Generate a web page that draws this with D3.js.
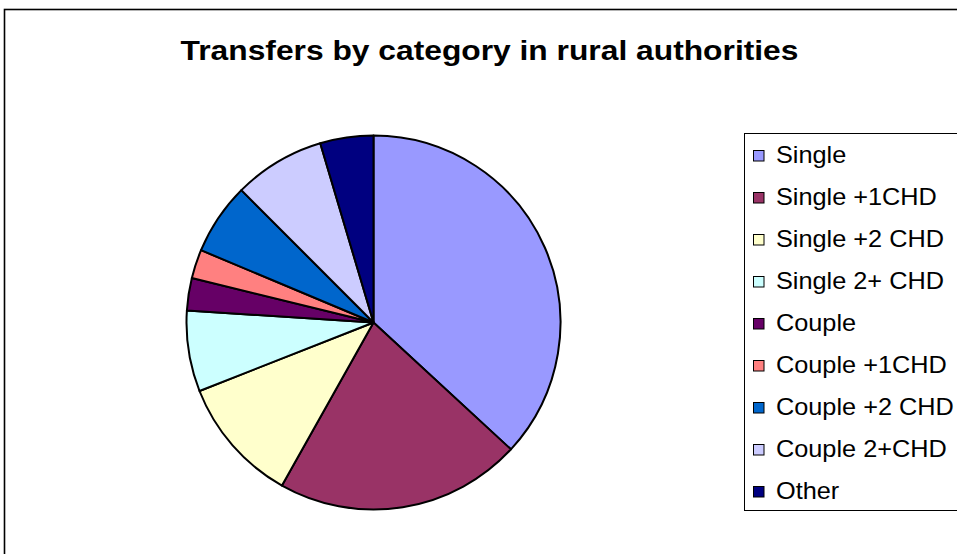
<!DOCTYPE html>
<html>
<head>
<meta charset="utf-8">
<script src="https://cdn.jsdelivr.net/npm/d3@7"></script>
<style>
  html, body { margin: 0; padding: 0; background: #fff; }
  svg { display: block; }
</style>
</head>
<body>
<svg id="chart" width="957" height="554"></svg>
<script>
// Household categories and their share of transfers (%)
const categories = ["Single", "Single +1CHD", "Single +2 CHD", "Single 2+ CHD", "Couple",
                    "Couple +1CHD", "Couple +2 CHD", "Couple 2+CHD", "Other"];
const values = [36.9, 21.3, 10.9, 7.0, 2.8, 2.5, 6.2, 7.9, 4.6];
const colors = ["#9999FF", "#993366", "#FFFFCC", "#CCFFFF", "#660066",
                "#FF8080", "#0066CC", "#CCCCFF", "#000080"];
const title = "Transfers by category in rural authorities";

const svg = d3.select("#chart");

// Chart area frame (right and bottom edges run off the page)
svg.append("rect")
  .attr("x", 4.5).attr("y", 9.5)
  .attr("width", 1000).attr("height", 600)
  .attr("fill", "#fff")
  .attr("stroke", "#000").attr("stroke-width", 1.6);

// Title
svg.append("text")
  .attr("transform", "translate(489.5,59.5) scale(1.135,1)")
  .attr("text-anchor", "middle")
  .attr("font-family", "Liberation Sans, Arial, sans-serif")
  .attr("font-weight", "bold")
  .attr("font-size", 28)
  .attr("fill", "#000")
  .text(title);

// Pie
const data = categories.map((c, i) => ({ name: c, value: values[i], color: colors[i] }));
const pie = d3.pie().value(d => d.value).sort(null);
const arc = d3.arc().innerRadius(0).outerRadius(187);

const g = svg.append("g").attr("transform", "translate(373.5,322.5)");
g.selectAll("path")
  .data(pie(data))
  .join("path")
  .attr("d", arc)
  .attr("fill", d => d.data.color)
  .attr("stroke", "#000")
  .attr("stroke-width", 2)
  .attr("stroke-linejoin", "round");

// Legend
const legend = svg.append("g");
legend.append("rect")
  .attr("x", 744.5).attr("y", 133.5)
  .attr("width", 300).attr("height", 377)
  .attr("fill", "#fff")
  .attr("stroke", "#000").attr("stroke-width", 1);

const rowY = d3.scalePoint().domain(categories).range([163, 499]);

const items = legend.selectAll("g.item")
  .data(data)
  .join("g")
  .attr("class", "item")
  .attr("transform", d => `translate(0,${rowY(d.name)})`);

items.append("rect")
  .attr("x", 753.5).attr("y", -12.5)
  .attr("width", 10.5).attr("height", 10.5)
  .attr("fill", d => d.color)
  .attr("stroke", "#000").attr("stroke-width", 1);

items.append("text")
  .attr("transform", "translate(776,0) scale(1.1,1)")
  .attr("font-family", "Liberation Sans, Arial, sans-serif")
  .attr("font-size", 23)
  .attr("fill", "#000")
  .text(d => d.name);
</script>
</body>
</html>
